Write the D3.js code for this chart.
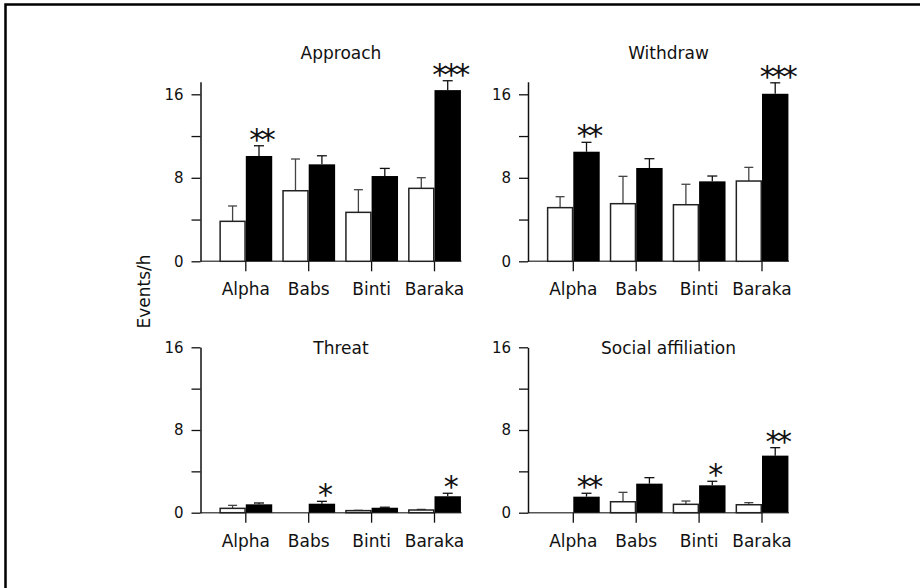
<!DOCTYPE html>
<html>
<head>
<meta charset="utf-8">
<script src="https://cdn.jsdelivr.net/npm/d3@7"></script>
<style>
  body { margin: 0; background: #fff; }
  text { font-family: "DejaVu Sans", sans-serif; fill: #111; }
</style>
</head>
<body>
<script>

var width = 920,
	height = 588;

var animals = ['Alpha', 'Babs', 'Binti', 'Baraka'];
var titles = ['Approach', 'Withdraw', 'Threat', 'Social affiliation'];

// white bars (before) and black bars (after), with upper error
var approachWhite = [3.83, 6.76, 4.69, 6.99],
	approachWhiteErr = [1.47, 3.04, 2.17, 1.02],
	approachBlack = [10.09, 9.29, 8.17, 16.4],
	approachBlackErr = [0.98, 0.82, 0.73, 0.9];

var withdrawWhite = [5.14, 5.52, 5.42, 7.69],
	withdrawWhiteErr = [1.05, 2.62, 1.96, 1.31],
	withdrawBlack = [10.5, 8.94, 7.66, 16.05],
	withdrawBlackErr = [0.9, 0.89, 0.51, 1.05];

var threatWhite = [0.42, 0, 0.2, 0.26],
	threatWhiteErr = [0.29, 0, 0.03, 0.06],
	threatBlack = [0.81, 0.87, 0.48, 1.59],
	threatBlackErr = [0.13, 0.23, 0.05, 0.29];

var socialWhite = [0, 1.06, 0.81, 0.77],
	socialWhiteErr = [0, 0.91, 0.32, 0.2],
	socialBlack = [1.55, 2.81, 2.65, 5.52],
	socialBlackErr = [0.33, 0.58, 0.39, 0.77];

var approachSig = ['**', '', '', '***'],
	withdrawSig = ['**', '', '', '***'],
	threatSig = ['', '*', '', '*'],
	socialSig = ['**', '', '*', '**'];

var yTicks = [0, 4, 8, 12, 16],
	yLabels = [0, 8, 16];

var panels = [
	{title: titles[0], white: approachWhite, whiteErr: approachWhiteErr, black: approachBlack, blackErr: approachBlackErr, sig: approachSig, col: 0, row: 0},
	{title: titles[1], white: withdrawWhite, whiteErr: withdrawWhiteErr, black: withdrawBlack, blackErr: withdrawBlackErr, sig: withdrawSig, col: 1, row: 0},
	{title: titles[2], white: threatWhite, whiteErr: threatWhiteErr, black: threatBlack, blackErr: threatBlackErr, sig: threatSig, col: 0, row: 1},
	{title: titles[3], white: socialWhite, whiteErr: socialWhiteErr, black: socialBlack, blackErr: socialBlackErr, sig: socialSig, col: 1, row: 1}
];

var colX = [200.5, 528],
	rows = [
		{y0: 261.3, unit: 167 / 16, top: 17.2},
		{y0: 512.7, unit: 165.4 / 16, top: 16}
	];

var svg = d3.select('body').append('svg')
	.attr('width', width)
	.attr('height', height);

// frame (only top and left edges show)
svg.append('path')
	.attr('d', 'M5.5,' + height + 'V4.5H' + width)
	.attr('fill', 'none')
	.attr('stroke', '#000')
	.attr('stroke-width', 2.5);

svg.append('text')
	.attr('transform', 'translate(149.5,291.5) rotate(-90)')
	.attr('text-anchor', 'middle')
	.style('font-size', '17px')
	.text('Events/h');

panels.forEach(function(p){

	var ax = colX[p.col],
		r = rows[p.row];

	var y = d3.scaleLinear()
		.domain([0, r.top])
		.range([r.y0, r.y0 - r.top * r.unit]);

	var x = d3.scaleBand()
		.domain(animals)
		.range([ax + 13.85, ax + 265.45])
		.paddingInner(0.16)
		.paddingOuter(0.08);

	var bw = x.bandwidth() / 2;

	var g = svg.append('g');

	// baseline
	g.append('line')
		.attr('x1', ax).attr('x2', ax + 261)
		.attr('y1', y(0)).attr('y2', y(0))
		.attr('stroke', '#555')
		.attr('stroke-width', 1.5);

	// bars
	animals.forEach(function(a, i){
		var cx = x(a) + bw;

		if (p.white[i] > 0) {
			var wx = x(a) + 0.75;
			g.append('line')
				.attr('x1', x(a) + bw / 2).attr('x2', x(a) + bw / 2)
				.attr('y1', y(p.white[i])).attr('y2', y(p.white[i] + p.whiteErr[i]))
				.attr('stroke', '#444').attr('stroke-width', 1.3);
			g.append('line')
				.attr('x1', x(a) + bw / 2 - 4.5).attr('x2', x(a) + bw / 2 + 4.5)
				.attr('y1', y(p.white[i] + p.whiteErr[i])).attr('y2', y(p.white[i] + p.whiteErr[i]))
				.attr('stroke', '#444').attr('stroke-width', 1.3);
			g.append('rect')
				.attr('x', wx)
				.attr('y', y(p.white[i]))
				.attr('width', bw - 1.5)
				.attr('height', y(0) - y(p.white[i]))
				.attr('fill', '#fff')
				.attr('stroke', '#222')
				.attr('stroke-width', 1.5);
		}

		var bx = cx + bw / 2;
		g.append('line')
			.attr('x1', bx).attr('x2', bx)
			.attr('y1', y(p.black[i])).attr('y2', y(p.black[i] + p.blackErr[i]))
			.attr('stroke', '#111').attr('stroke-width', 1.3);
		g.append('line')
			.attr('x1', bx - 5).attr('x2', bx + 5)
			.attr('y1', y(p.black[i] + p.blackErr[i])).attr('y2', y(p.black[i] + p.blackErr[i]))
			.attr('stroke', '#111').attr('stroke-width', 1.3);
		g.append('rect')
			.attr('x', cx)
			.attr('y', y(p.black[i]))
			.attr('width', bw)
			.attr('height', y(0) - y(p.black[i]))
			.attr('fill', '#000');

		if (p.sig[i]) {
			g.append('text')
				.attr('x', bx + 1.75)
				.attr('y', y(p.black[i] + p.blackErr[i]) - 13 + 17)
				.attr('text-anchor', 'middle')
				.style('font-size', '30px')
				.style('letter-spacing', '-3.5px')
				.text(p.sig[i]);
		}
	});

	// x ticks and labels
	var xAxis = d3.axisBottom(x)
		.tickSize(10)
		.tickSizeOuter(0)
		.tickPadding(12);

	var gx = g.append('g')
		.attr('transform', 'translate(0,' + y(0) + ')')
		.call(xAxis);
	gx.select('.domain').remove();
	gx.selectAll('.tick line').attr('stroke', '#111').attr('stroke-width', 1.3);
	gx.selectAll('.tick text')
		.style('font-family', '"DejaVu Sans", sans-serif')
		.style('font-size', '17px')
		.attr('fill', '#111');

	// y axis
	var yAxis = d3.axisLeft(y)
		.tickValues(yTicks)
		.tickFormat(function(d){ return yLabels.indexOf(d) >= 0 ? d : ''; })
		.tickSize(9)
		.tickSizeOuter(0)
		.tickPadding(8);

	var gy = g.append('g')
		.attr('transform', 'translate(' + ax + ',0)')
		.call(yAxis);
	gy.select('.domain').attr('stroke', '#111').attr('stroke-width', 1.5);
	gy.selectAll('.tick line').attr('stroke', '#111').attr('stroke-width', 1.3);
	gy.selectAll('.tick text')
		.style('font-family', '"DejaVu Sans", sans-serif')
		.style('font-size', '15px')
		.attr('fill', '#111');

	// title
	g.append('text')
		.attr('x', ax + 140.5)
		.attr('y', p.row === 0 ? 59 : 354)
		.attr('text-anchor', 'middle')
		.style('font-size', '17px')
		.text(p.title);
});

</script>
</body>
</html>
